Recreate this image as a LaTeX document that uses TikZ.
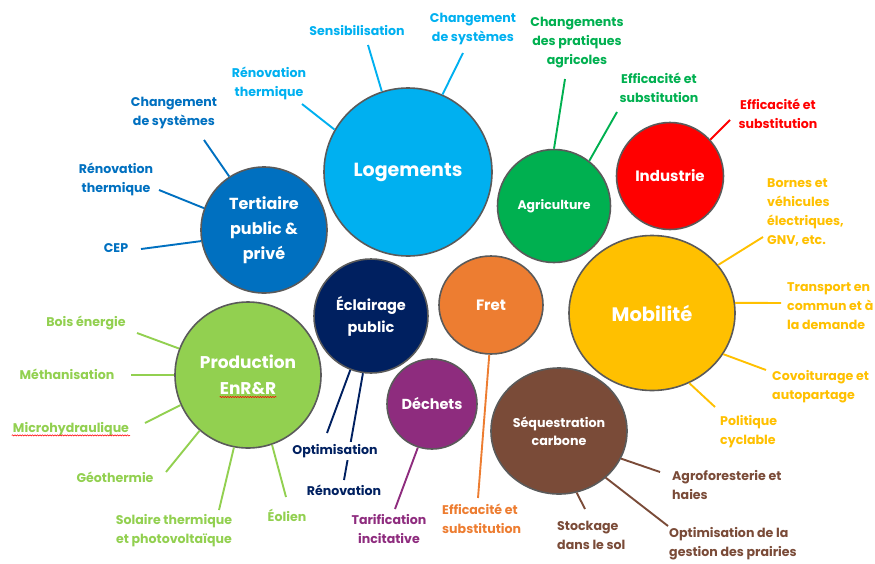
\documentclass[tikz,border=0pt]{standalone}
\usepackage{fontspec}
\setmainfont{Poppins}
\usetikzlibrary{shapes.geometric,decorations.pathmorphing}
\definecolor{logc}{HTML}{00B0F0}
\definecolor{terc}{HTML}{0070C0}
\definecolor{agrc}{HTML}{00B050}
\definecolor{indc}{HTML}{FF0000}
\definecolor{mobc}{HTML}{FFC000}
\definecolor{frec}{HTML}{ED7D31}
\definecolor{eclc}{HTML}{002060}
\definecolor{proc}{HTML}{92D050}
\definecolor{decc}{HTML}{8E2C7E}
\definecolor{seqc}{HTML}{7A4B38}
\definecolor{ringc}{HTML}{5A5A5A}
\tikzset{
  bub/.style={circle, draw=ringc, line width=1.6pt, text=white, align=center, inner sep=0pt},
  bubel/.style={ellipse, draw=ringc, line width=1.6pt, text=white, align=center, inner sep=0pt},
  btxt/.style={text=white, align=center, inner sep=0pt},
  lab/.style={align=center, inner sep=1pt, font=\bfseries\fontsize{12.6}{19}\selectfont},
  labl/.style={lab, align=left, anchor=west},
  conn/.style={line width=1.9pt},
  spell/.style={draw=red, line width=0.5pt, decorate, decoration={snake, amplitude=0.6pt, segment length=2.5pt}}
}
\begin{document}
\begin{tikzpicture}[x=1pt,y=-1pt]
\useasboundingbox (0,0) rectangle (875,563);
% ---------- bubbles ----------
\node[bub, fill=logc, minimum size=168pt, font=\bfseries\fontsize{19}{22}\selectfont] (log) at (408,172) {Logements};
\node[bub, fill=terc, minimum size=126pt, font=\bfseries\fontsize{16}{25}\selectfont] (ter) at (264,230) {Tertiaire\\public \&\\privé};
\node[bub, fill=agrc, minimum size=113pt, font=\bfseries\fontsize{12.5}{14}\selectfont] (agr) at (554,206) {Agriculture};
\node[bub, fill=indc, minimum size=107pt, font=\bfseries\fontsize{15}{16}\selectfont] (ind) at (670,176) {Industrie};
\node[bubel, fill=mobc, minimum width=166pt, minimum height=155pt, font=\bfseries\fontsize{19.5}{22}\selectfont] (mob) at (652,313) {Mobilité};
\node[bubel, fill=frec, minimum width=104pt, minimum height=98pt, font=\bfseries\fontsize{15}{16}\selectfont] (fre) at (491,305) {Fret};
\node[bub, fill=eclc, minimum size=114pt, font=\bfseries\fontsize{14.5}{22}\selectfont] (ecl) at (371,316) {Éclairage\\public};
\node[bub, fill=proc, minimum size=146pt] (pro) at (248,375) {};
\node[btxt, font=\bfseries\fontsize{17}{18}\selectfont] (proA) at (248,362) {Production};
\node[btxt, font=\bfseries\fontsize{17}{18}\selectfont] (proB) at (248,388) {EnR\&R};
\draw[spell] ([yshift=-3pt]proB.base west) -- ([yshift=-3pt]proB.base east);
\node[bub, fill=decc, minimum size=90pt, font=\bfseries\fontsize{14.5}{16}\selectfont] (dec) at (432,404) {Déchets};
\node[bubel, fill=seqc, minimum width=136pt, minimum height=126pt, font=\bfseries\fontsize{12.7}{18}\selectfont] (seq) at (559,431) {Séquestration\\carbone};
% ---------- Logements ----------
\node[lab, text=logc] (logS) at (357,31) {Sensibilisation};
\node[lab, text=logc] (logC) at (473,29) {Changement\\de systèmes};
\node[lab, text=logc] (logR) at (269,83) {Rénovation\\thermique};
\coordinate (logSe) at (368,45);
\coordinate (logCe) at (463,53);
\coordinate (logRe) at (302,104);
\draw[conn, logc] (logSe) -- (log.108);
\draw[conn, logc] (logCe) -- (log.66);
\draw[conn, logc] (logRe) -- (log.150);
% ---------- Tertiaire ----------
\node[lab, text=terc] (terC) at (174,113) {Changement\\de systèmes};
\node[lab, text=terc] (terR) at (116,179) {Rénovation\\thermique};
\node[lab, text=terc] (terE) at (116,248) {CEP};
\coordinate (terCe) at (204,140);
\coordinate (terRe) at (159,190);
\coordinate (terEe) at (141,249);
\draw[conn, terc] (terCe) -- (ter.123);
\draw[conn, terc] (terRe) -- (ter.160);
\draw[conn, terc] (terEe) -- (ter.190);
% ---------- Agriculture ----------
\node[lab, text=agrc] (agrC) at (577,43) {Changements\\des pratiques\\agricoles};
\node[lab, text=agrc] (agrE) at (659,88) {Efficacité et\\substitution};
\coordinate (agrCe) at (565,79);
\coordinate (agrEe) at (617,112);
\draw[conn, agrc] (agrCe) -- (agr.90);
\draw[conn, agrc] (agrEe) -- (agr.52);
% ---------- Industrie ----------
\node[lab, text=indc] (indE) at (778,114) {Efficacité et\\substitution};
\coordinate (indEe) at (730,120);
\draw[conn, indc] (indEe) -- (ind.42);
% ---------- Mobilité ----------
\node[labl, text=mobc] (mobB) at (766,212) {Bornes et\\véhicules\\électriques,\\GNV, etc.};
\node[labl, text=mobc] (mobT) at (786,306) {Transport en\\commun et à\\la demande};
\node[labl, text=mobc] (mobC) at (771,387) {Covoiturage et\\autopartage};
\node[labl, text=mobc] (mobP) at (719,432) {Politique\\cyclable};
\coordinate (mobBe) at (763,237);
\coordinate (mobTe) at (781,303);
\coordinate (mobCe) at (766,370);
\coordinate (mobPe) at (715,407);
\draw[conn, mobc] (mobBe) -- (mob.36);
\draw[conn, mobc] (mobTe) -- (mob.7);
\draw[conn, mobc] (mobCe) -- (mob.-30);
\draw[conn, mobc] (mobPe) -- (mob.-62);
% ---------- Fret ----------
\node[labl, text=frec] (freE) at (441,519) {Efficacité et\\substitution};
\coordinate (freEe) at (478,498);
\draw[conn, frec] (freEe) -- (fre.-92);
% ---------- Séquestration ----------
\node[labl, text=seqc] (seqA) at (671,485) {Agroforesterie et\\haies};
\node[labl, text=seqc] (seqS) at (556,535) {Stockage\\dans le sol};
\node[labl, text=seqc] (seqO) at (668,544) {Optimisation de la\\gestion des prairies};
\coordinate (seqAe) at (660,472);
\coordinate (seqSe) at (585,509);
\coordinate (seqOe) at (668,526);
\draw[conn, seqc] (seqAe) -- (seq.-24);
\draw[conn, seqc] (seqSe) -- (seq.-74);
\draw[conn, seqc] (seqOe) -- (seq.-45);
% ---------- Déchets ----------
\node[lab, text=decc] (decT) at (389,529) {Tarification\\incitative};
\coordinate (decTe) at (395,509);
\draw[conn, decc] (decTe) -- (dec.-108);
% ---------- Éclairage ----------
\node[lab, text=eclc] (eclR) at (344,490) {Rénovation};
\coordinate (eclRe) at (344,480);
\coordinate (eclOe) at (327,433);
\draw[conn, eclc] (eclRe) -- (ecl.-98);
\draw[conn, eclc] (eclOe) -- (ecl.-111);
\node[lab, text=eclc, fill=white, inner sep=2pt] (eclO) at (335,451) {Optimisation};
% ---------- Production ----------
\node[lab, text=proc] (proBo) at (86,323) {Bois énergie};
\node[lab, text=proc] (proMe) at (67,374) {Méthanisation};
\node[lab, text=proc] (proMi) at (71,429) {Microhydraulique};
\draw[spell] ([yshift=-3pt]proMi.base west) -- ([yshift=-3pt]proMi.base east);
\node[lab, text=proc] (proGe) at (115,477) {Géothermie};
\node[lab, text=proc] (proSo) at (174,531) {Solaire thermique\\et photovoltaïque};
\node[lab, text=proc] (proEo) at (287,515) {Éolien};
\coordinate (proBoe) at (137,333);
\coordinate (proMee) at (131,375);
\coordinate (proMie) at (145,423);
\coordinate (proGee) at (166,472);
\coordinate (proSoe) at (219,510);
\coordinate (proEoe) at (286,497);
\draw[conn, proc] (proBoe) -- (pro.159);
\draw[conn, proc] (proMee) -- (pro.180);
\draw[conn, proc] (proMie) -- (pro.204);
\draw[conn, proc] (proGee) -- (pro.-131);
\draw[conn, proc] (proSoe) -- (pro.-101);
\draw[conn, proc] (proEoe) -- (pro.-71);
\end{tikzpicture}
\end{document}
